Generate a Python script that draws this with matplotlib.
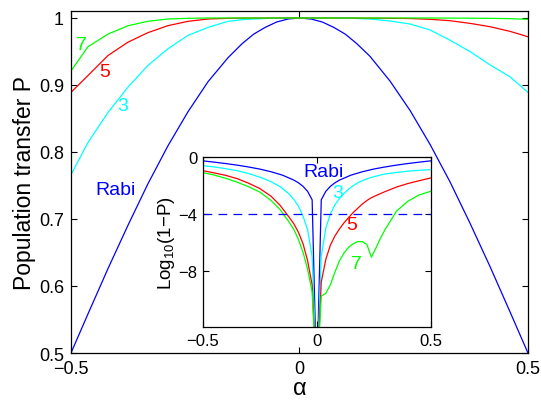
import matplotlib
matplotlib.use("Agg")
import matplotlib.pyplot as plt

plt.rcParams['font.family'] = ['Liberation Sans', 'DejaVu Sans']
plt.rcParams['mathtext.fontset'] = 'custom'
plt.rcParams['mathtext.rm'] = 'Liberation Sans'
plt.rcParams['mathtext.it'] = 'Liberation Sans:italic'

# ---------------- main panel data (population transfer P) ----------------
alpha_main = [-0.5, -0.463, -0.419, -0.375, -0.332, -0.288, -0.244, -0.2, -0.156, -0.125, -0.1, -0.075,
              -0.05, -0.025, 0.0, 0.025, 0.05, 0.075, 0.1, 0.125, 0.154, 0.198, 0.242, 0.286, 0.329,
              0.373, 0.417, 0.461, 0.5]
P_rabi = [0.5, 0.558, 0.626, 0.691, 0.752, 0.809, 0.860, 0.905, 0.941, 0.962, 0.976, 0.986,
          0.994, 0.9985, 1.0, 0.9985, 0.994, 0.986, 0.976, 0.962, 0.943, 0.906, 0.862, 0.811, 0.756,
          0.694, 0.629, 0.561, 0.5]
P_3 = [0.766, 0.814, 0.859, 0.897, 0.929, 0.954, 0.974, 0.986, 0.995, 0.9975, 0.9985, 0.9993,
       0.9998, 1.0, 1.0, 1.0, 1.0, 0.9999, 0.9998, 0.9993, 0.9985, 0.9955, 0.991, 0.982, 0.967,
       0.950, 0.930, 0.912, 0.889]
P_5 = [0.889, 0.914, 0.944, 0.964, 0.978, 0.9885, 0.995, 0.9985, 0.9995, 0.9998, 1.0, 1.0,
       1.0, 1.0, 1.0, 1.0, 1.0, 1.0, 1.0, 0.9999, 0.9998, 0.9995, 0.9992, 0.998, 0.996,
       0.992, 0.987, 0.980, 0.972]
P_7 = [0.921, 0.957, 0.976, 0.9885, 0.995, 0.9985, 0.9995, 1.0, 1.0, 1.0, 1.0, 1.0,
       1.0, 1.0, 1.0, 1.0, 1.0, 1.0, 1.0, 1.0, 1.0, 1.0, 1.0, 1.0, 0.9998,
       0.9997, 0.9995, 0.999, 0.998]

main_xticks = [-0.5, 0, 0.5]
main_xticklabels = ['\u22120.5', '0', '0.5']
main_yticks = [0.5, 0.6, 0.7, 0.8, 0.9, 1.0]
main_yticklabels = ['0.5', '0.6', '0.7', '0.8', '0.9', '1']

# ---------------- inset data (log10(1-P)) ----------------
alpha_rabi_in = [-0.5, -0.45, -0.4, -0.35, -0.3, -0.25, -0.2, -0.15, -0.1, -0.08, -0.06, -0.04, -0.02,
                 0.0, 0.02, 0.04, 0.06, 0.08, 0.1, 0.15, 0.2, 0.25, 0.3, 0.35, 0.4, 0.45, 0.5]
L_rabi = [-0.25, -0.34, -0.44, -0.55, -0.68, -0.83, -1.02, -1.26, -1.61, -1.80, -2.05, -2.40, -3.0,
          -16.0, -3.0, -2.40, -2.05, -1.80, -1.61, -1.26, -1.02, -0.83, -0.68, -0.55, -0.44, -0.34, -0.25]

alpha_in = [-0.5, -0.45, -0.4, -0.35, -0.3, -0.25, -0.2, -0.16, -0.12, -0.1, -0.08, -0.06, -0.04, -0.02,
            0.0, 0.02, 0.04, 0.06, 0.08, 0.1, 0.12, 0.14, 0.16, 0.18, 0.2, 0.22, 0.24, 0.26, 0.28,
            0.3, 0.35, 0.4, 0.45, 0.5]
L_3 = [-0.59, -0.68, -0.80, -0.94, -1.14, -1.40, -1.72, -2.08, -2.6, -2.98, -3.45, -4.15, -5.1, -7.0,
       -16.0, -7.0, -5.0, -4.0, -3.35, -2.9, -2.55, -2.25, -2.0, -1.8, -1.65, -1.52, -1.42, -1.33, -1.25,
       -1.18, -1.07, -0.98, -0.92, -0.87]
L_5 = [-0.94, -1.1, -1.27, -1.5, -1.82, -2.2, -2.75, -3.4, -4.25, -4.7, -5.3, -6.1, -7.3, -9.0,
       -16.0, -8.8, -7.2, -6.2, -5.55, -5.05, -4.62, -4.25, -3.9, -3.6, -3.3, -3.05, -2.85, -2.7, -2.56,
       -2.42, -2.1, -1.85, -1.65, -1.46]
L_7 = [-1.08, -1.25, -1.48, -1.75, -2.07, -2.45, -3.05, -3.7, -4.6, -5.1, -5.8, -6.7, -7.9, -9.5,
       -16.0, -9.8, -9.6, -9.0, -8.1, -7.3, -6.75, -6.35, -6.1, -5.95, -5.95, -6.15, -7.05, -6.4, -5.7,
       -5.1, -3.8, -3.1, -2.65, -2.4]
threshold = -4

inset_xticks = [-0.5, 0, 0.5]
inset_xticklabels = ['\u22120.5', '0', '0.5']
inset_yticks = [-8, -4, 0]
inset_yticklabels = ['\u22128', '\u22124', '0']

BLUE, RED, GREEN, CYAN = (0, 0, 1), (1, 0, 0), (0, 1, 0), (0, 1, 1)

fig = plt.figure(figsize=(5.41, 4.02), dpi=100)
ax = fig.add_axes([0.1312, 0.1194, 0.8447, 0.8507])
lw = 0.9
ax.plot(alpha_main, P_rabi, color=BLUE, lw=lw)
ax.plot(alpha_main, P_3, color=CYAN, lw=lw)
ax.plot(alpha_main, P_5, color=RED, lw=lw)
ax.plot(alpha_main, P_7, color=GREEN, lw=lw)
ax.set_xlim(-0.5, 0.5)
ax.set_ylim(0.5, 1.0104)
ax.set_xticks(main_xticks)
ax.set_xticklabels(main_xticklabels)
ax.set_yticks(main_yticks)
ax.set_yticklabels(main_yticklabels)
ax.tick_params(direction='in', length=4, width=0.8, labelsize=13, top=True, right=True, pad=5)
for s in ax.spines.values():
    s.set_linewidth(0.9)
ax.set_xlabel('\u03b1', fontsize=17, labelpad=0)
ax.set_ylabel('Population transfer P', fontsize=16.5, labelpad=2)

fs = 14
ax.text(-0.478, 0.96, '7', color=GREEN, fontsize=fs, ha='center', va='center')
ax.text(-0.426, 0.920, '5', color=RED, fontsize=fs, ha='center', va='center')
ax.text(-0.387, 0.870, '3', color=CYAN, fontsize=fs, ha='center', va='center')
ax.text(-0.402, 0.744, 'Rabi', color=BLUE, fontsize=fs, ha='center', va='center')

# inset
ins = fig.add_axes([0.3747, 0.1833, 0.4214, 0.4229])
ins.set_facecolor('white')
ins.plot(alpha_rabi_in, L_rabi, color=BLUE, lw=lw)
ins.plot(alpha_in, L_3, color=CYAN, lw=lw)
ins.plot(alpha_in, L_5, color=RED, lw=lw)
ins.plot(alpha_in, L_7, color=GREEN, lw=lw)
ins.axhline(threshold, color=BLUE, lw=lw, dashes=(7, 5))
ins.set_xlim(-0.5, 0.5)
ins.set_ylim(-12, 0)
ins.set_xticks(inset_xticks)
ins.set_xticklabels(inset_xticklabels)
ins.set_yticks(inset_yticks)
ins.set_yticklabels(inset_yticklabels)
ins.tick_params(direction='in', length=4, width=0.8, labelsize=12, top=True, right=True, pad=4)
for s in ins.spines.values():
    s.set_linewidth(0.9)
ins.set_ylabel('Log$_{10}$(1\u2212P)', fontsize=13.5, labelpad=1)

ins.text(0.032, -0.97, 'Rabi', color=BLUE, fontsize=fs, ha='center', va='center')
ins.text(0.091, -2.48, '3', color=CYAN, fontsize=fs, ha='center', va='center')
ins.text(0.155, -4.74, '5', color=RED, fontsize=fs, ha='center', va='center')
ins.text(0.175, -7.53, '7', color=GREEN, fontsize=fs, ha='center', va='center')

fig.savefig('out.png', dpi=100)
